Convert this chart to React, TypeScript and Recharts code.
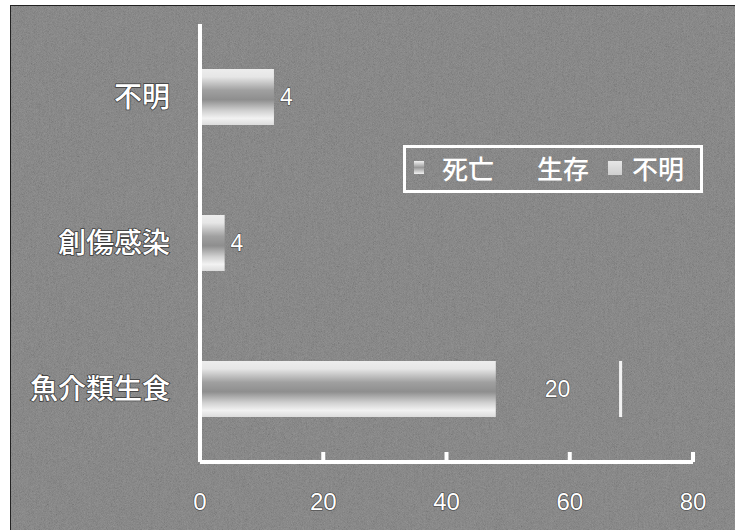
import { BarChart, Bar, XAxis, YAxis, LabelList } from 'recharts';

const categories = ['不明', '創傷感染', '魚介類生食'];
const deaths = [12, 4, 48];
const survived = [4, 4, 20];
const unknown = [0, 0, 0.5];
const xTicks = [0, 20, 40, 60, 80];

const seriesNames = { deaths: '死亡', survived: '生存', unknown: '不明' };

const data = categories.map((name, i) => ({
  name,
  deaths: deaths[i],
  survived: survived[i],
  unknown: unknown[i],
}));

const cjk = '"Noto Sans CJK JP", "Noto Sans", sans-serif';
const latin = '"Liberation Sans", Arial, sans-serif';

function CategoryTick({ x, y, payload }: any) {
  return (
    <text
      x={x - 30}
      y={y}
      dy="0.36em"
      textAnchor="end"
      fill="#fff"
      stroke="#3a3a3a"
      strokeWidth={1.5}
      paintOrder="stroke"
      style={{ fontSize: 28, fontFamily: cjk, fontWeight: 500 }}
    >
      {payload.value}
    </text>
  );
}

function ValueTick({ x, y, payload }: any) {
  return (
    <g>
      {payload.value > 0 && (
        <line x1={x} y1={y} x2={x} y2={y - 10} stroke="#fff" strokeWidth={4} />
      )}
      <text
        x={x}
        y={y + 48}
        textAnchor="middle"
        fill="#fff"
        stroke="#3a3a3a"
        strokeWidth={1.2}
        paintOrder="stroke"
        style={{ fontSize: 24, fontFamily: latin }}
      >
        {payload.value}
      </text>
    </g>
  );
}

// legend drawn as an overlay so it does not take room from the plot
function LegendBox() {
  const label = { position: 'absolute' as const, top: 3, fontSize: 26, lineHeight: '34px', fontFamily: cjk, fontWeight: 500, color: '#fff' };
  return (
    <div style={{ position: 'absolute', left: 392, top: 139, width: 300, height: 48, border: '3px solid #fff', boxSizing: 'border-box' }}>
      <div style={{ position: 'absolute', left: 8, top: 13, width: 10, height: 13, background: 'linear-gradient(#f2f2f2, #999 50%, #f2f2f2)' }} />
      <span style={{ ...label, left: 36 }}>{seriesNames.deaths}</span>
      <span style={{ ...label, left: 131 }}>{seriesNames.survived}</span>
      <div style={{ position: 'absolute', left: 202, top: 13, width: 14, height: 14, background: 'linear-gradient(#e6e6e6, #cfcfcf)' }} />
      <span style={{ ...label, left: 226 }}>{seriesNames.unknown}</span>
    </div>
  );
}

export default function App() {
  return (
    <div
      style={{
        position: 'absolute',
        left: 10,
        top: 5,
        width: 725,
        height: 525,
        background: '#6e6e6e',
        borderTop: '1px solid #222',
        borderLeft: '1px solid #222',
        boxSizing: 'border-box',
        overflow: 'hidden',
      }}
    >
      <svg width={725} height={525} style={{ position: 'absolute', left: 0, top: 0 }}>
        <defs>
          <filter id="grain">
            <feTurbulence type="fractalNoise" baseFrequency="1.4" numOctaves={2} seed={3} />
            <feColorMatrix type="matrix" values="0.33 0.33 0.33 0 0  0.33 0.33 0.33 0 0  0.33 0.33 0.33 0 0  0 0 0 0 1" />
          </filter>
        </defs>
        <rect width={725} height={525} filter="url(#grain)" opacity={0.35} />
      </svg>
      <div style={{ position: 'absolute', left: -1, top: -1 }}>
        <BarChart
          width={725}
          height={525}
          data={data}
          layout="vertical"
          margin={{ top: 19, right: 42, bottom: 0, left: 0 }}
        >
          <defs>
            <linearGradient id="gradDeath" x1="0" y1="0" x2="0" y2="1">
              <stop offset="0%" stopColor="#ededed" />
              <stop offset="14%" stopColor="#e6e6e6" />
              <stop offset="38%" stopColor="#a0a0a0" />
              <stop offset="55%" stopColor="#8e8e8e" />
              <stop offset="75%" stopColor="#d2d2d2" />
              <stop offset="88%" stopColor="#f2f2f2" />
              <stop offset="100%" stopColor="#dcdcdc" />
            </linearGradient>
          </defs>
          <XAxis
            type="number"
            domain={[0, 80]}
            ticks={xTicks}
            height={68}
            axisLine={{ stroke: '#fff', strokeWidth: 4 }}
            tickLine={false}
            tickSize={0}
            tickMargin={0}
            tick={<ValueTick />}
            interval={0}
          />
          <YAxis
            type="category"
            dataKey="name"
            width={190}
            axisLine={{ stroke: '#fff', strokeWidth: 4 }}
            tickLine={false}
            tickSize={0}
            tickMargin={0}
            tick={<CategoryTick />}
          />
          <Bar dataKey="deaths" name={seriesNames.deaths} stackId="a" barSize={56} fill="url(#gradDeath)" isAnimationActive={false} />
          <Bar dataKey="survived" name={seriesNames.survived} stackId="a" barSize={56} fill="transparent" isAnimationActive={false}>
            <LabelList
              dataKey="survived"
              position="center"
              fill="#fff"
              stroke="#3a3a3a"
              strokeWidth={1}
              paintOrder="stroke"
              style={{ fontSize: 23, fontFamily: latin }}
            />
          </Bar>
          <Bar dataKey="unknown" name={seriesNames.unknown} stackId="a" barSize={56} fill="#f2f2f2" isAnimationActive={false} />
        </BarChart>
      </div>
      <LegendBox />
    </div>
  );
}
